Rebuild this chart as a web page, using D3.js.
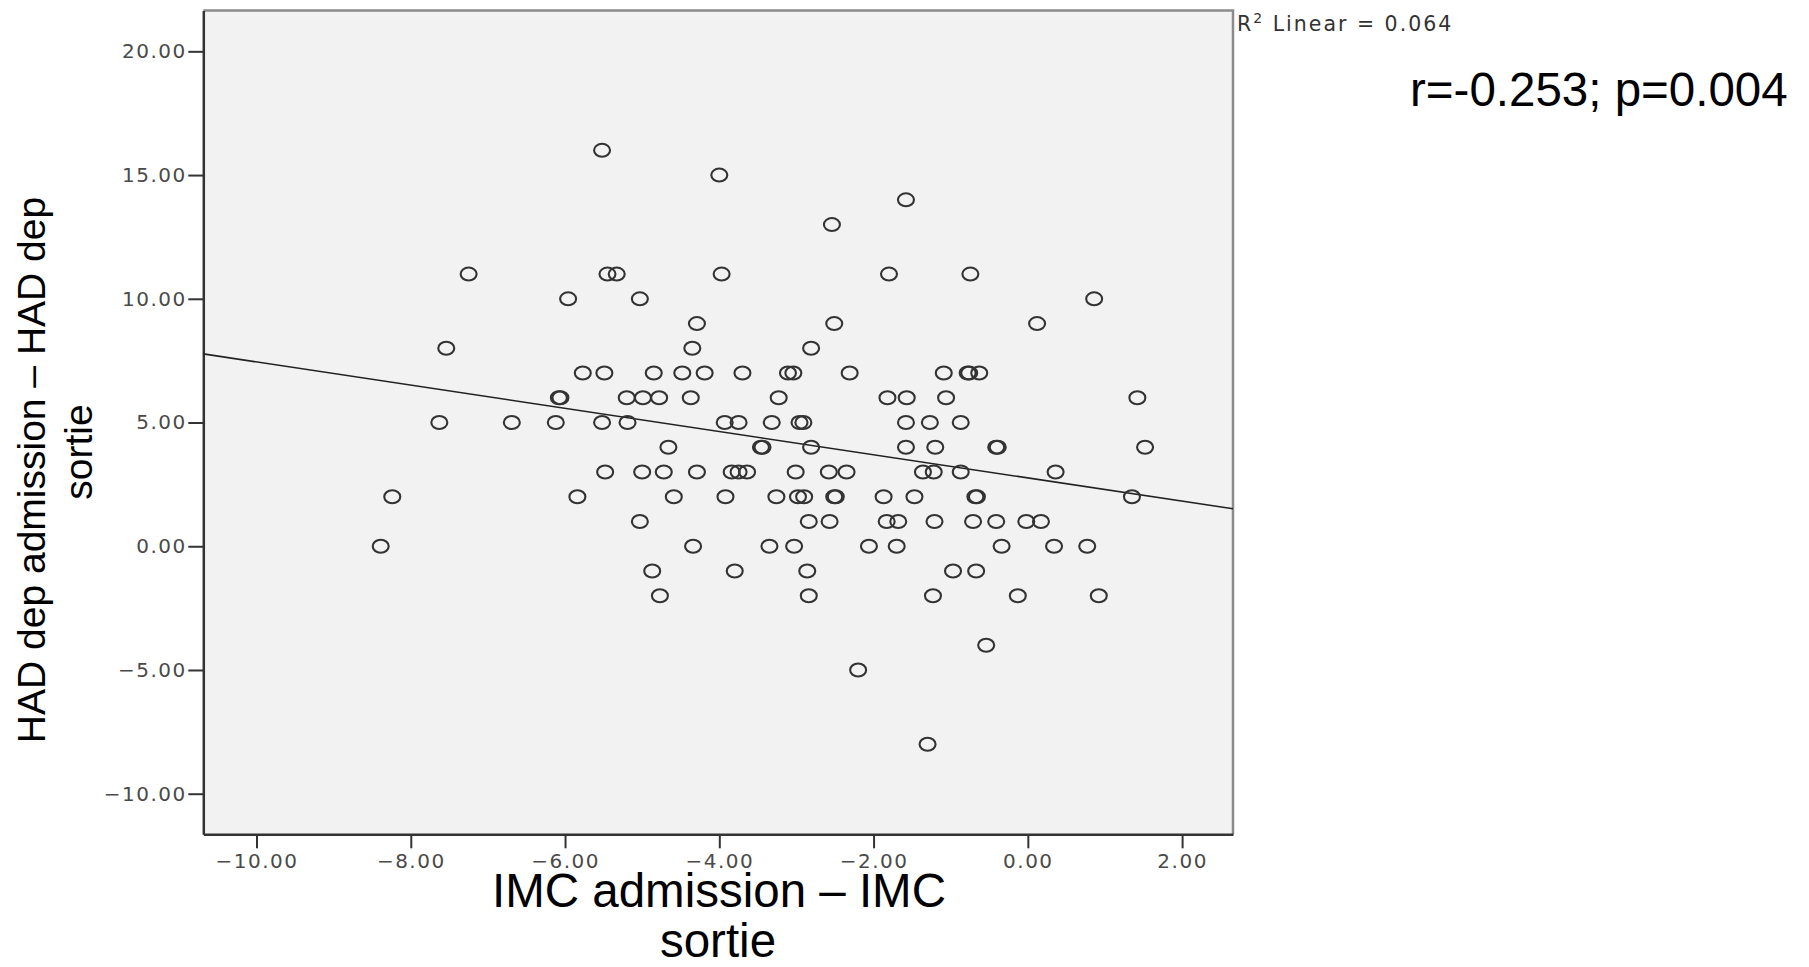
<!DOCTYPE html>
<html>
<head>
<meta charset="utf-8">
<script src="https://cdn.jsdelivr.net/npm/d3@7"></script>
<style>
  body { margin: 0; background: #fff; }
  .tick text { font-family: "DejaVu Sans", sans-serif; font-size: 20px; fill: #4a4a4a; letter-spacing: 1.5px; }
  .aText { font-family: "Liberation Sans", Arial, sans-serif; fill: #000; }
</style>
</head>
<body>
<div id="scatter"></div>
<script>
// data, one line per HAD score
var hadDiff = [
  16, 15, 14, 13,
  11, 11, 11, 11, 11, 11,
  10, 10, 10,
  9, 9, 9,
  8, 8, 8,
  7, 7, 7, 7, 7, 7, 7, 7, 7, 7, 7, 7, 7,
  6, 6, 6, 6, 6, 6, 6, 6, 6, 6, 6,
  5, 5, 5, 5, 5, 5, 5, 5, 5, 5, 5, 5, 5,
  4, 4, 4, 4, 4, 4, 4, 4, 4,
  3, 3, 3, 3, 3, 3, 3, 3, 3, 3, 3, 3, 3, 3,
  2, 2, 2, 2, 2, 2, 2, 2, 2, 2, 2, 2, 2, 2,
  1, 1, 1, 1, 1, 1, 1, 1, 1, 1,
  0, 0, 0, 0, 0, 0, 0, 0, 0,
  -1, -1, -1, -1, -1,
  -2, -2, -2, -2, -2,
  -4, -5, -8
];

var imcDiff = [
  -5.52, -4.00, -1.58, -2.54,
  -7.25, -5.45, -5.33, -3.97, -1.80, -0.745,
  -5.96, -5.03, 0.86,
  -4.29, -2.51, 0.12,
  -7.54, -4.35, -2.81,
  -5.77, -5.49, -4.85, -4.48, -4.19, -3.70, -3.11, -3.04, -2.31, -1.09, -0.78, -0.76, -0.63,
  -6.08, -6.06, -5.20, -4.99, -4.78, -4.37, -3.23, -1.82, -1.57, -1.06, 1.42,
  -7.63, -6.69, -6.12, -5.52, -5.19, -3.93, -3.75, -3.32, -2.96, -2.91, -1.58, -1.27, -0.87,
  -4.66, -3.46, -3.44, -2.81, -1.58, -1.20, -0.41, -0.39, 1.52,
  -5.48, -5.00, -4.72, -4.29, -3.84, -3.75, -3.64, -3.01, -2.58, -2.35, -1.36, -1.22, -0.87, 0.36,
  -8.24, -5.84, -4.59, -3.92, -3.26, -2.98, -2.90, -2.51, -2.49, -1.87, -1.47, -0.68, -0.66, 1.35,
  -5.03, -2.84, -2.57, -1.83, -1.68, -1.21, -0.71, -0.41, -0.02, 0.17,
  -8.39, -4.34, -3.35, -3.03, -2.06, -1.70, -0.34, 0.34, 0.77,
  -4.87, -3.80, -2.86, -0.97, -0.67,
  -4.77, -2.84, -1.23, -0.13, 0.92,
  -0.54, -2.20, -1.30
];

// axis ranges and ticks
var xDomain = [-10.69, 2.66];
var yDomain = [-11.64, 21.65];
var xTicks = [-10, -8, -6, -4, -2, 0, 2];
var yTicks = [-10, -5, 0, 5, 10, 15, 20];

// fit line (R2 linear = 0.064)
var fitIntercept = 2.76;
var fitSlope = -0.469;
var r2Label = "0.064";
var statLabel = "r=-0.253; p=0.004";

// basic setup
var svgWidth = 1809;
var svgHeight = 967;

var plot = { left: 203.3, right: 1233, top: 10.5, bottom: 834.3 };

var svg = d3.select("#scatter")
  .append("svg")
  .attr("width", svgWidth)
  .attr("height", svgHeight);

var xScale = d3.scaleLinear().domain(xDomain).range([plot.left, plot.right]);
var yScale = d3.scaleLinear().domain(yDomain).range([plot.bottom, plot.top]);

// plot background
svg.append("rect")
  .attr("x", plot.left)
  .attr("y", plot.top)
  .attr("width", plot.right - plot.left)
  .attr("height", plot.bottom - plot.top)
  .attr("fill", "#f2f2f2");

// light top / right frame
svg.append("path")
  .attr("d", `M${plot.left},${plot.top}H${plot.right}V${plot.bottom}`)
  .attr("fill", "none")
  .attr("stroke", "#8c8c8c")
  .attr("stroke-width", 2.5);

var fmt = d3.format(".2f");

// x axis
svg.append("g")
  .attr("transform", `translate(0, ${plot.bottom})`)
  .style("color", "#333")
  .call(d3.axisBottom(xScale).tickValues(xTicks).tickFormat(fmt)
    .tickSize(14).tickSizeOuter(0).tickPadding(5.5));

// y axis
svg.append("g")
  .attr("transform", `translate(${plot.left}, 0)`)
  .style("color", "#333")
  .call(d3.axisLeft(yScale).tickValues(yTicks).tickFormat(fmt)
    .tickSize(15).tickSizeOuter(0).tickPadding(1.5));

svg.selectAll(".domain").attr("stroke-width", 2.5);
svg.selectAll(".tick line").attr("stroke-width", 2);

// regression line
svg.append("line")
  .attr("x1", xScale(xDomain[0]))
  .attr("y1", yScale(fitIntercept + fitSlope * xDomain[0]))
  .attr("x2", xScale(xDomain[1]))
  .attr("y2", yScale(fitIntercept + fitSlope * xDomain[1]))
  .attr("stroke", "#222")
  .attr("stroke-width", 1.6);

// points
var points = imcDiff.map(function(x, i) { return { x: x, y: hadDiff[i] }; });

svg.append("g").selectAll("ellipse")
  .data(points)
  .enter()
  .append("ellipse")
  .attr("cx", d => xScale(d.x))
  .attr("cy", d => yScale(d.y))
  .attr("rx", 8)
  .attr("ry", 6.5)
  .attr("fill", "none")
  .attr("stroke", "#333")
  .attr("stroke-width", 2.1);

// R2 label
var r2 = svg.append("text")
  .attr("x", 1237)
  .attr("y", 31)
  .style("font-family", "DejaVu Sans, sans-serif")
  .style("font-size", "20.5px")
  .style("letter-spacing", "2px")
  .attr("fill", "#333");
r2.append("tspan").text("R");
r2.append("tspan").attr("dy", -8).style("font-size", "14px").text("2");
r2.append("tspan").attr("dy", 8).text(" Linear = " + r2Label);

// r / p label
svg.append("text")
  .attr("x", 1410)
  .attr("y", 106)
  .classed("aText", true)
  .style("font-size", "47.5px")
  .text(statLabel);

// y axis title
var yTitle = svg.append("text")
  .attr("transform", "rotate(-90)")
  .attr("text-anchor", "middle")
  .classed("aText", true)
  .style("font-size", "39px");
yTitle.append("tspan").attr("x", -470).attr("y", 45).text("HAD dep admission \u2013 HAD dep");
yTitle.append("tspan").attr("x", -452).attr("y", 92).text("sortie");

// x axis title
var xTitle = svg.append("text")
  .attr("text-anchor", "middle")
  .classed("aText", true)
  .style("font-size", "47.5px");
xTitle.append("tspan").attr("x", 719).attr("y", 907).text("IMC admission \u2013 IMC");
xTitle.append("tspan").attr("x", 718).attr("y", 957).text("sortie");
</script>
</body>
</html>
